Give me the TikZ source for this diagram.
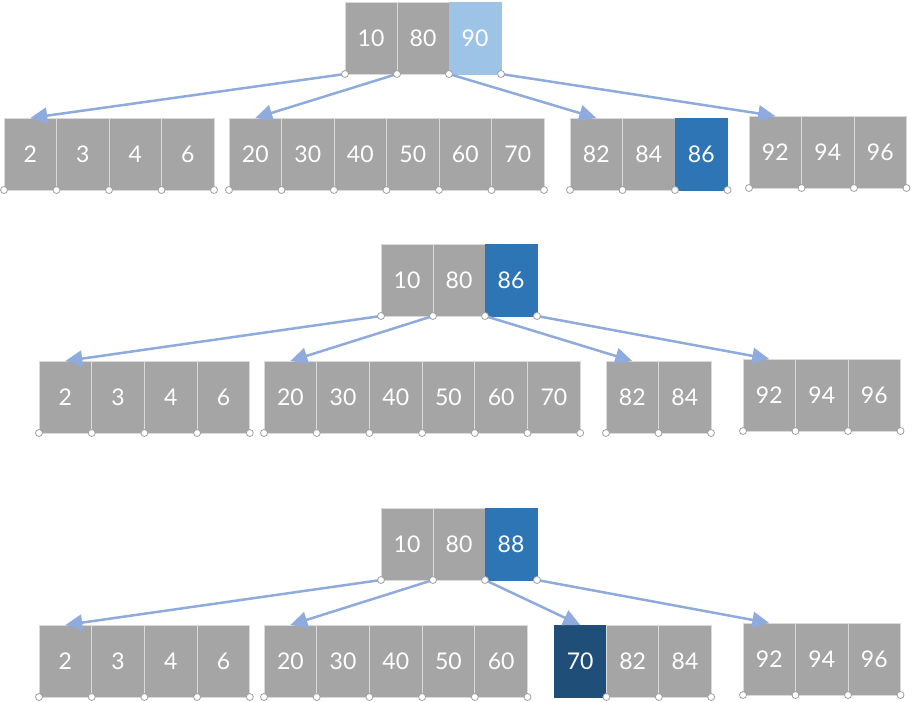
\documentclass[tikz,border=0pt]{standalone}
\usepackage{fontspec}
\setmainfont{Lato}
\usetikzlibrary{arrows.meta}
\definecolor{cellgray}{HTML}{A5A5A5}
\definecolor{cellline}{HTML}{DADADA}
\definecolor{lightblue}{HTML}{9DC3E6}
\definecolor{midblue}{HTML}{2E75B6}
\definecolor{darkblue}{HTML}{1F4E79}
\definecolor{arrowblue}{HTML}{8FAADC}
\definecolor{dotgray}{HTML}{A0A0A0}
\tikzset{
  cell/.style={draw=cellline, line width=0.9bp, fill=cellgray, text=white, minimum height=72bp, inner sep=0pt, outer sep=0pt, font=\fontsize{23bp}{26bp}\selectfont},
  g/.style={},
  lb/.style={fill=lightblue, draw=lightblue},
  mb/.style={fill=midblue, draw=midblue},
  db/.style={fill=darkblue, draw=darkblue},
  link/.style={draw=arrowblue, line width=2.5bp, -{Triangle[length=17bp,width=16bp]}, shorten <=1bp},
  knob/.style={circle, draw=dotgray, fill=white, line width=0.8bp, minimum size=7bp, inner sep=0pt}
}
% #1 prefix, #2 left x, #3 top y, #4 cell width, #5 list label/style
\newcommand\brow[5]{%
  \foreach[count=\i] \t/\s in {#5} {
    \node[cell,\s,minimum width=#4 bp] (#1\i) at ({#2+(\i-0.5)*#4},{#3+36}) {\t};
  }}
% #1 prefix, #2 first index, #3 last index
\newcommand\knobs[3]{%
  \foreach \i in {#2,...,#3} { \node[knob] at (#1\i.south west) {}; }
  \node[knob] at (#1#3.south east) {};}
\begin{document}
\begin{tikzpicture}[x=1bp,y=-1bp]
\useasboundingbox (0,0) rectangle (912,702);
% ---------- tree 1 ----------
\brow{ta}{345}{2}{52}{10/g,80/g,90/lb}
\brow{aa}{4}{118}{52.5}{2/g,3/g,4/g,6/g}
\brow{ab}{229}{118}{52.5}{20/g,30/g,40/g,50/g,60/g,70/g}
\brow{ac}{570}{118}{52.5}{82/g,84/g,86/mb}
\brow{ad}{749}{116}{52.5}{92/g,94/g,96/g}
\draw[link] (ta1.south west) -- (aa1.north);
\draw[link] (ta2.south west) -- (ab1.north);
\draw[link] (ta3.south west) -- (ac1.north);
\draw[link] (ta3.south east) -- (ad1.north);
\knobs{ta}{1}{3}
\knobs{aa}{1}{4}
\knobs{ab}{1}{6}
\knobs{ac}{1}{3}
\knobs{ad}{1}{3}
% ---------- tree 2 ----------
\brow{tb}{381}{244}{52}{10/g,80/g,86/mb}
\brow{ba}{39}{361}{52.7}{2/g,3/g,4/g,6/g}
\brow{bb}{264}{361}{52.7}{20/g,30/g,40/g,50/g,60/g,70/g}
\brow{bc}{606}{361}{52.5}{82/g,84/g}
\brow{bd}{743}{359}{52.5}{92/g,94/g,96/g}
\draw[link] (tb1.south west) -- (ba1.north);
\draw[link] (tb2.south west) -- (bb1.north);
\draw[link] (tb3.south west) -- (bc1.north);
\draw[link] (tb3.south east) -- (bd1.north);
\knobs{tb}{1}{3}
\knobs{ba}{1}{4}
\knobs{bb}{1}{6}
\knobs{bc}{1}{2}
\knobs{bd}{1}{3}
% ---------- tree 3 ----------
\brow{tc}{381}{508}{52}{10/g,80/g,88/mb}
\brow{ca}{39}{625}{52.7}{2/g,3/g,4/g,6/g}
\brow{cb}{264}{625}{52.7}{20/g,30/g,40/g,50/g,60/g}
\brow{cc}{554}{625}{52.4}{70/db,82/g,84/g}
\brow{cd}{743}{623}{52.5}{92/g,94/g,96/g}
\draw[link] (tc1.south west) -- (ca1.north);
\draw[link] (tc2.south west) -- (cb1.north);
\draw[link] (tc3.south west) -- (cc1.north);
\draw[link] (tc3.south east) -- (cd1.north);
\knobs{tc}{1}{3}
\knobs{ca}{1}{4}
\knobs{cb}{1}{5}
\knobs{cc}{2}{3}
\knobs{cd}{1}{3}
\end{tikzpicture}
\end{document}
